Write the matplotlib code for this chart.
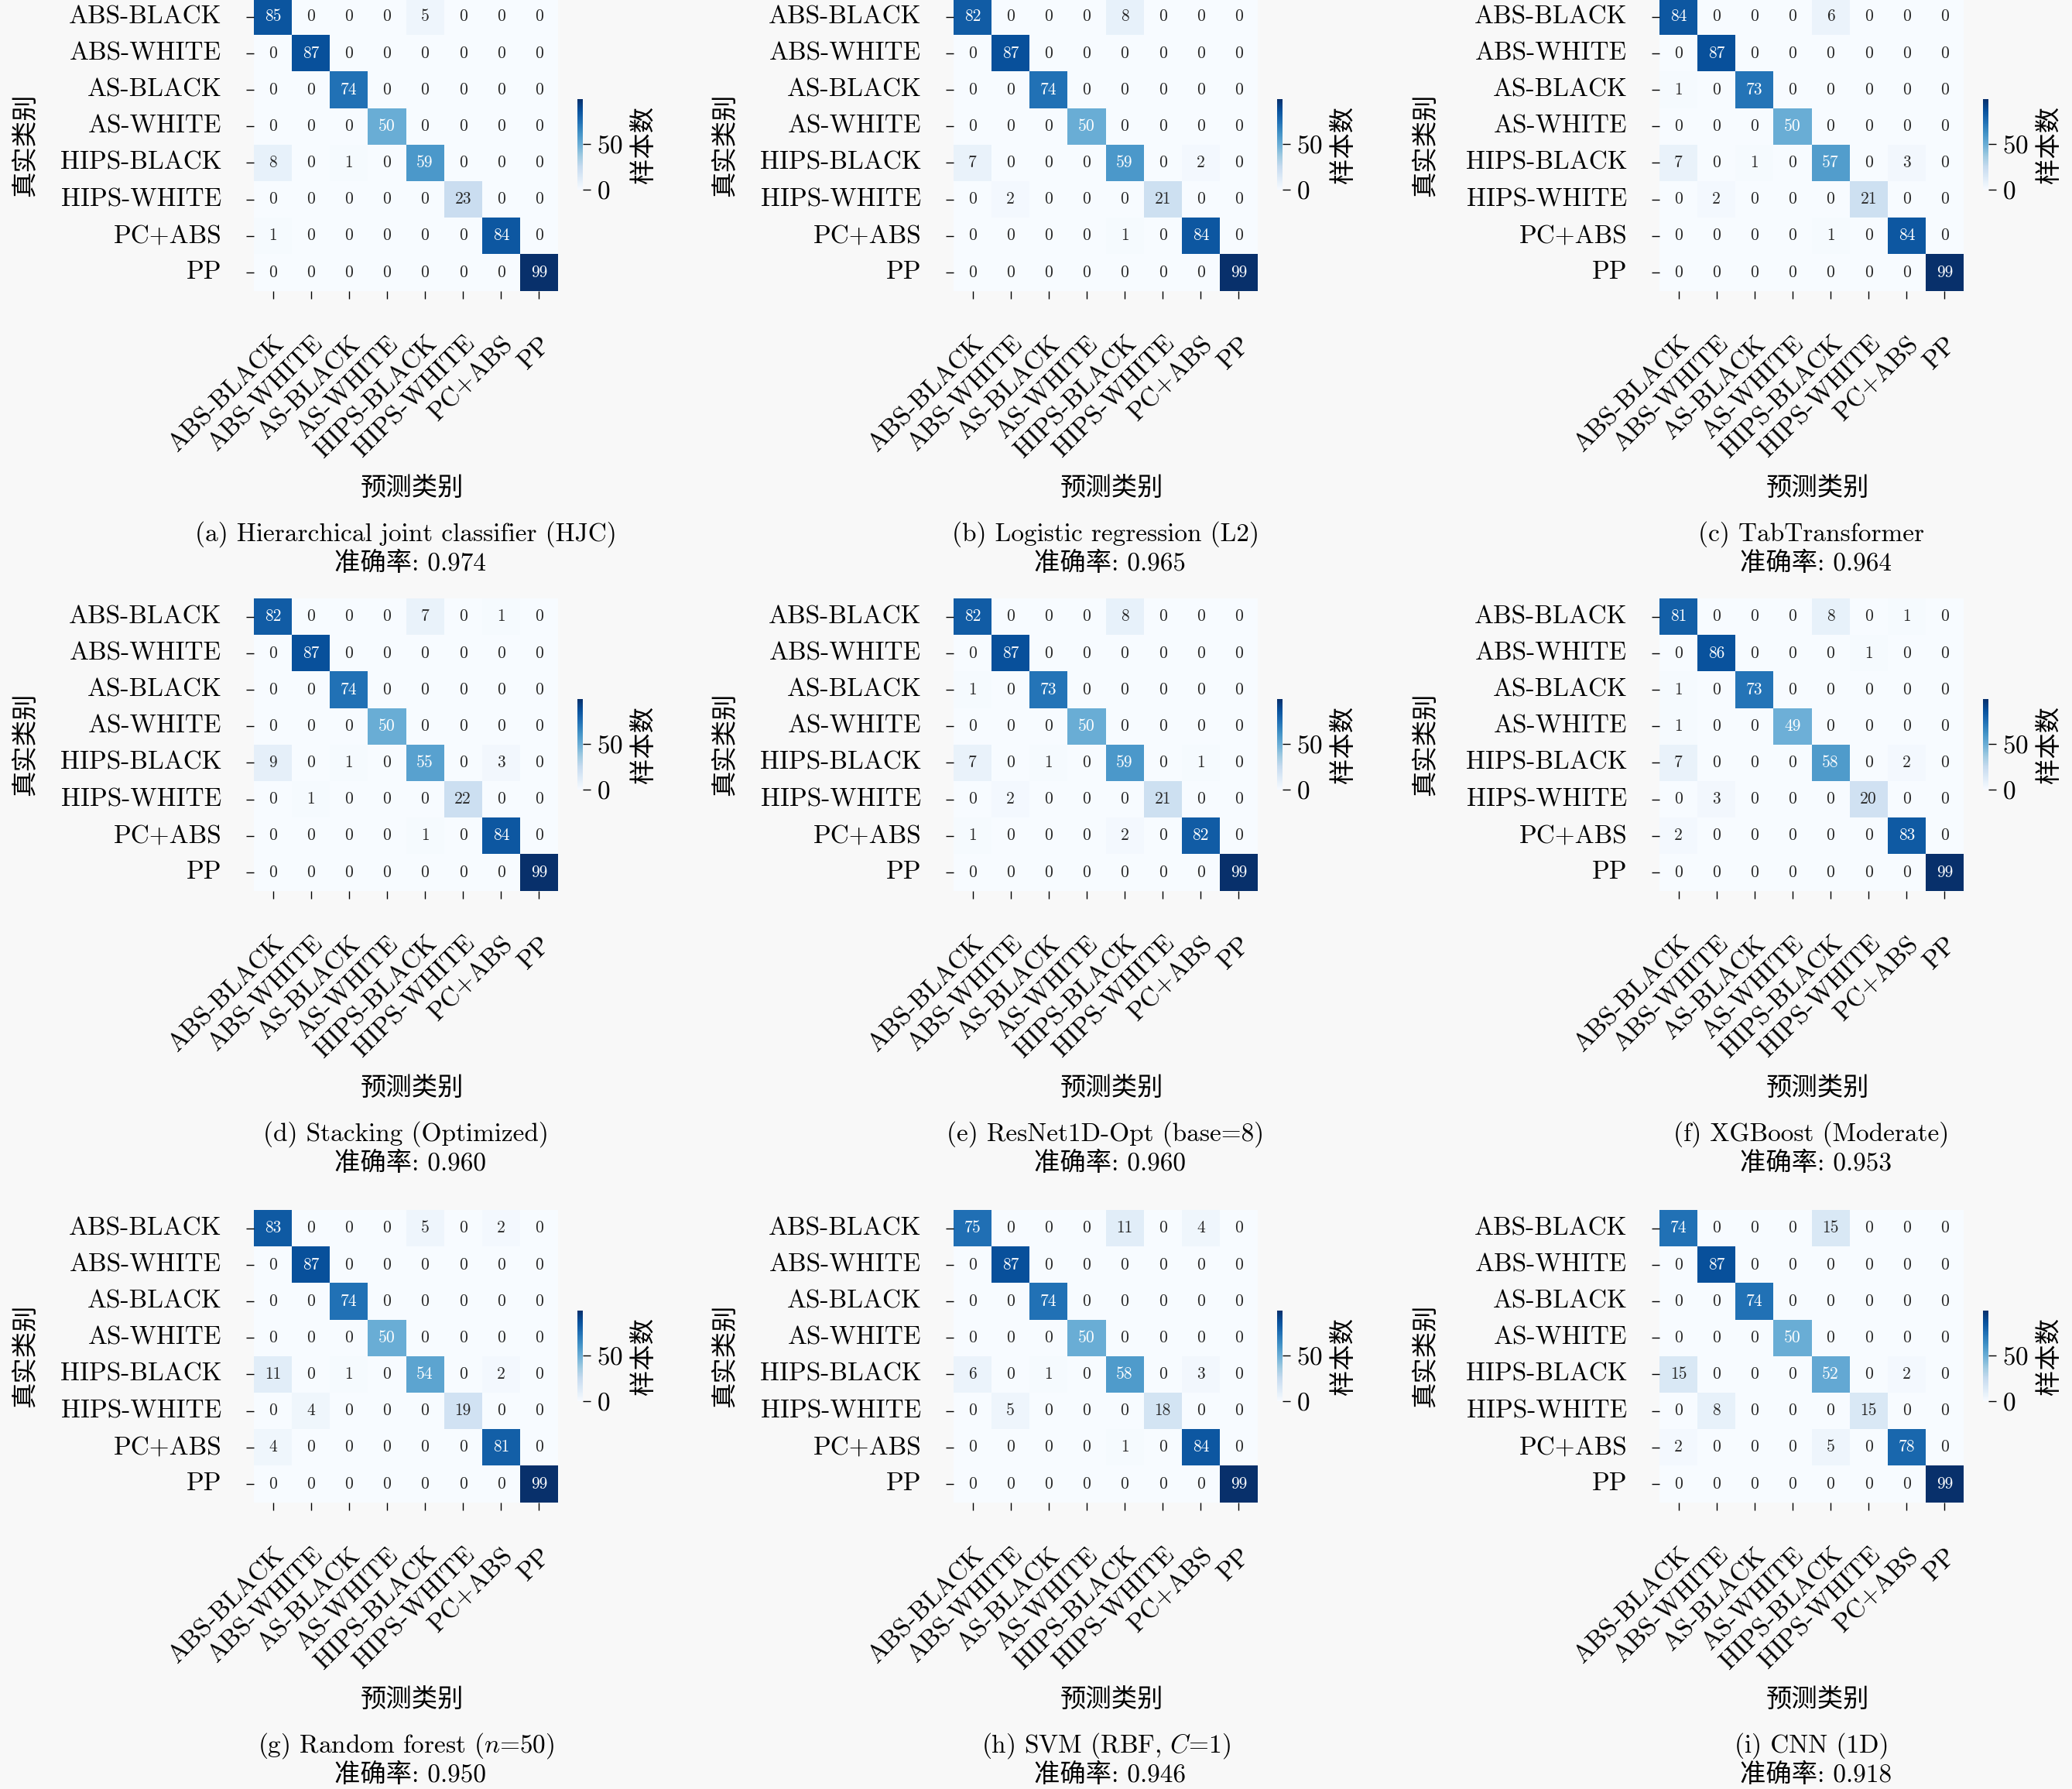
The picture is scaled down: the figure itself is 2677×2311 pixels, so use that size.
import numpy as np
import matplotlib
matplotlib.use("Agg")
import matplotlib.pyplot as plt
import matplotlib.transforms as mtransforms
import seaborn as sns

plt.rcParams['font.family'] = ['cmr10', 'Noto Sans CJK SC', 'DejaVu Sans']
plt.rcParams['mathtext.fontset'] = 'cm'
plt.rcParams['axes.unicode_minus'] = False
plt.rcParams['axes.formatter.use_mathtext'] = True

classes = ["ABS-BLACK", "ABS-WHITE", "AS-BLACK", "AS-WHITE",
           "HIPS-BLACK", "HIPS-WHITE", "PC+ABS", "PP"]

titles = [
    "(a) Hierarchical joint classifier (HJC)",
    "(b) Logistic regression (L2)",
    "(c) TabTransformer",
    "(d) Stacking (Optimized)",
    "(e) ResNet1D-Opt (base=8)",
    "(f) XGBoost (Moderate)",
    "(g) Random forest ($n$=50)",
    "(h) SVM (RBF, $C$=1)",
    "(i) CNN (1D)",
]
accuracies = [0.974, 0.965, 0.964, 0.960, 0.960, 0.953, 0.950, 0.946, 0.918]

cm_hjc = [[85, 0, 0, 0, 5, 0, 0, 0],
          [0, 87, 0, 0, 0, 0, 0, 0],
          [0, 0, 74, 0, 0, 0, 0, 0],
          [0, 0, 0, 50, 0, 0, 0, 0],
          [8, 0, 1, 0, 59, 0, 0, 0],
          [0, 0, 0, 0, 0, 23, 0, 0],
          [1, 0, 0, 0, 0, 0, 84, 0],
          [0, 0, 0, 0, 0, 0, 0, 99]]
cm_lr = [[82, 0, 0, 0, 8, 0, 0, 0],
         [0, 87, 0, 0, 0, 0, 0, 0],
         [0, 0, 74, 0, 0, 0, 0, 0],
         [0, 0, 0, 50, 0, 0, 0, 0],
         [7, 0, 0, 0, 59, 0, 2, 0],
         [0, 2, 0, 0, 0, 21, 0, 0],
         [0, 0, 0, 0, 1, 0, 84, 0],
         [0, 0, 0, 0, 0, 0, 0, 99]]
cm_tab = [[84, 0, 0, 0, 6, 0, 0, 0],
          [0, 87, 0, 0, 0, 0, 0, 0],
          [1, 0, 73, 0, 0, 0, 0, 0],
          [0, 0, 0, 50, 0, 0, 0, 0],
          [7, 0, 1, 0, 57, 0, 3, 0],
          [0, 2, 0, 0, 0, 21, 0, 0],
          [0, 0, 0, 0, 1, 0, 84, 0],
          [0, 0, 0, 0, 0, 0, 0, 99]]
cm_stack = [[82, 0, 0, 0, 7, 0, 1, 0],
            [0, 87, 0, 0, 0, 0, 0, 0],
            [0, 0, 74, 0, 0, 0, 0, 0],
            [0, 0, 0, 50, 0, 0, 0, 0],
            [9, 0, 1, 0, 55, 0, 3, 0],
            [0, 1, 0, 0, 0, 22, 0, 0],
            [0, 0, 0, 0, 1, 0, 84, 0],
            [0, 0, 0, 0, 0, 0, 0, 99]]
cm_resnet = [[82, 0, 0, 0, 8, 0, 0, 0],
             [0, 87, 0, 0, 0, 0, 0, 0],
             [1, 0, 73, 0, 0, 0, 0, 0],
             [0, 0, 0, 50, 0, 0, 0, 0],
             [7, 0, 1, 0, 59, 0, 1, 0],
             [0, 2, 0, 0, 0, 21, 0, 0],
             [1, 0, 0, 0, 2, 0, 82, 0],
             [0, 0, 0, 0, 0, 0, 0, 99]]
cm_xgb = [[81, 0, 0, 0, 8, 0, 1, 0],
          [0, 86, 0, 0, 0, 1, 0, 0],
          [1, 0, 73, 0, 0, 0, 0, 0],
          [1, 0, 0, 49, 0, 0, 0, 0],
          [7, 0, 0, 0, 58, 0, 2, 0],
          [0, 3, 0, 0, 0, 20, 0, 0],
          [2, 0, 0, 0, 0, 0, 83, 0],
          [0, 0, 0, 0, 0, 0, 0, 99]]
cm_rf = [[83, 0, 0, 0, 5, 0, 2, 0],
         [0, 87, 0, 0, 0, 0, 0, 0],
         [0, 0, 74, 0, 0, 0, 0, 0],
         [0, 0, 0, 50, 0, 0, 0, 0],
         [11, 0, 1, 0, 54, 0, 2, 0],
         [0, 4, 0, 0, 0, 19, 0, 0],
         [4, 0, 0, 0, 0, 0, 81, 0],
         [0, 0, 0, 0, 0, 0, 0, 99]]
cm_svm = [[75, 0, 0, 0, 11, 0, 4, 0],
          [0, 87, 0, 0, 0, 0, 0, 0],
          [0, 0, 74, 0, 0, 0, 0, 0],
          [0, 0, 0, 50, 0, 0, 0, 0],
          [6, 0, 1, 0, 58, 0, 3, 0],
          [0, 5, 0, 0, 0, 18, 0, 0],
          [0, 0, 0, 0, 1, 0, 84, 0],
          [0, 0, 0, 0, 0, 0, 0, 99]]
cm_cnn = [[74, 0, 0, 0, 15, 0, 0, 0],
          [0, 87, 0, 0, 0, 0, 0, 0],
          [0, 0, 74, 0, 0, 0, 0, 0],
          [0, 0, 0, 50, 0, 0, 0, 0],
          [15, 0, 0, 0, 52, 0, 2, 0],
          [0, 8, 0, 0, 0, 15, 0, 0],
          [2, 0, 0, 0, 5, 0, 78, 0],
          [0, 0, 0, 0, 0, 0, 0, 99]]

matrices = [cm_hjc, cm_lr, cm_tab, cm_stack, cm_resnet, cm_xgb, cm_rf, cm_svm, cm_cnn]

W, H = 2677, 2311
DPI = 100
BG = '#f8f8f8'
FS = 24
fig = plt.figure(figsize=(W / DPI, H / DPI), dpi=DPI, facecolor=BG)

col_left = [328, 1232, 2144]
row_top = [-2, 773, 1563]
HM_W, HM_H = 393, 377.5


def px_axes(left, top, width, height):
    return fig.add_axes([left / W, 1 - (top + height) / H, width / W, height / H])


for k, (cm, title, acc) in enumerate(zip(matrices, titles, accuracies)):
    r, c = divmod(k, 3)
    L, T = col_left[c], row_top[r]
    ax = px_axes(L, T, HM_W, HM_H)
    cax = px_axes(L + 418, T + 130, 7, 117)
    ax.set_facecolor(BG)
    data = np.array(cm)
    sns.heatmap(data, ax=ax, cbar_ax=cax, cmap='Blues', annot=True, fmt='d',
                annot_kws={'size': 15.5}, xticklabels=classes, yticklabels=classes,
                vmin=0, vmax=data.max())
    ax.tick_params(axis='y', length=7, width=1, pad=23, labelsize=FS)
    ax.tick_params(axis='x', length=7, width=1, pad=39, labelsize=FS)
    ax.set_yticklabels(classes, rotation=0)
    ax.set_xticklabels(classes, rotation=45, ha='right', va='center',
                       rotation_mode='anchor')
    off = mtransforms.ScaledTranslation(11 / DPI, 0, fig.dpi_scale_trans)
    for lab in ax.get_xticklabels():
        lab.set_transform(lab.get_transform() + off)

    ax.set_ylabel('真实类别', fontsize=FS, va='center')
    ax.yaxis.set_label_coords((-296 if c < 2 else -303) / HM_W, 0.5)
    ax.set_xlabel('预测类别', fontsize=FS, va='center')
    ax.xaxis.set_label_coords(204 / HM_W, -(632 - HM_H) / HM_H)

    ax.text(0.5, -(692 - HM_H) / HM_H, title, transform=ax.transAxes,
            ha='center', va='center', fontsize=FS)
    ax.text(0.5 + 5 / HM_W, -(729 - HM_H) / HM_H, f'准确率: {acc:.3f}',
            transform=ax.transAxes, ha='center', va='center', fontsize=FS)

    cb = ax.collections[0].colorbar
    cb.set_ticks([0, 50])
    cb.ax.tick_params(length=7, width=1, pad=6, labelsize=FS)
    cb.outline.set_linewidth(0)
    cb.set_label('样本数', fontsize=FS, labelpad=8)

fig.savefig('out.png', dpi=DPI, facecolor=BG)
